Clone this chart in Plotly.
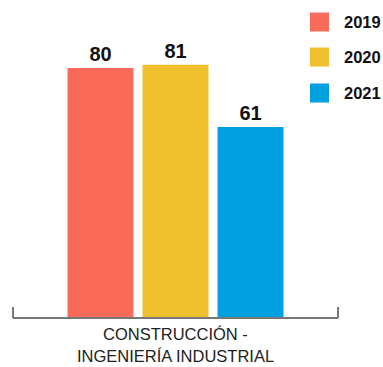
import plotly.graph_objects as go

categories = ["CONSTRUCCIÓN -<br>INGENIERÍA INDUSTRIAL"]
years = ["2019", "2020", "2021"]
values = [[80], [81], [61]]
colors = ["#F96B58", "#F0BF2E", "#009FE0"]

FONT = "Liberation Sans, Arial"
PLOT_BOTTOM = 317
PLOT_H = 297
PLOT_W = 325

fig = go.Figure()
for yr, vals, col in zip(years, values, colors):
    fig.add_trace(go.Bar(
        x=categories, y=vals, name=yr, marker=dict(color=col, line=dict(width=0)),
        text=["<b>%d</b>" % v for v in vals], textposition="outside", cliponaxis=False,
        textfont=dict(family=FONT, size=20, color="#111111"),
        showlegend=False,
    ))

# custom legend with large squares
leg_y = [22, 57, 93]
for yr, col, yc in zip(years, colors, leg_y):
    fig.add_shape(type="rect", xref="paper", yref="paper",
                  x0=(310 - 13) / PLOT_W, x1=(329 - 13) / PLOT_W,
                  y0=(PLOT_BOTTOM - (yc + 9.5)) / PLOT_H, y1=(PLOT_BOTTOM - (yc - 9.5)) / PLOT_H,
                  fillcolor=col, line=dict(width=0))
    fig.add_annotation(xref="paper", yref="paper", x=(342 - 13) / PLOT_W,
                       y=(PLOT_BOTTOM - yc) / PLOT_H, text="<b>%s</b>" % yr, showarrow=False,
                       xanchor="left", yanchor="middle",
                       font=dict(family=FONT, size=16.5, color="#111111"))

# category label lines (as annotations for line spacing)
line_y = [334, 356]
for cat in categories:
    for line, ly in zip(cat.split("<br>"), line_y):
        fig.add_annotation(x=cat, xref="x", yref="paper", y=(PLOT_BOTTOM - ly) / PLOT_H,
                           text=line, showarrow=False, xanchor="center", yanchor="middle",
                           borderpad=0,
                           font=dict(family=FONT, size=16.5, color="#222222"))

# boundary tick marks
for xp in [0, 1]:
    fig.add_shape(type="line", xref="paper", yref="paper", x0=xp, x1=xp,
                  y0=-1 / PLOT_H, y1=10 / PLOT_H, line=dict(color="#777777", width=2))

fig.update_layout(
    width=383, height=367,
    margin=dict(l=13, r=45, t=20, b=50),
    paper_bgcolor="white", plot_bgcolor="white",
    barmode="group", bargap=0.3077, bargroupgap=0.12,
    showlegend=False,
    font=dict(family=FONT),
)
fig.update_xaxes(
    showline=True, linecolor="#777777", linewidth=2,
    showticklabels=False, ticks="", automargin=False,
    showgrid=False,
)
fig.update_yaxes(range=[0, 95.4], visible=False, showgrid=False, automargin=False)

fig.write_html("out.html")
